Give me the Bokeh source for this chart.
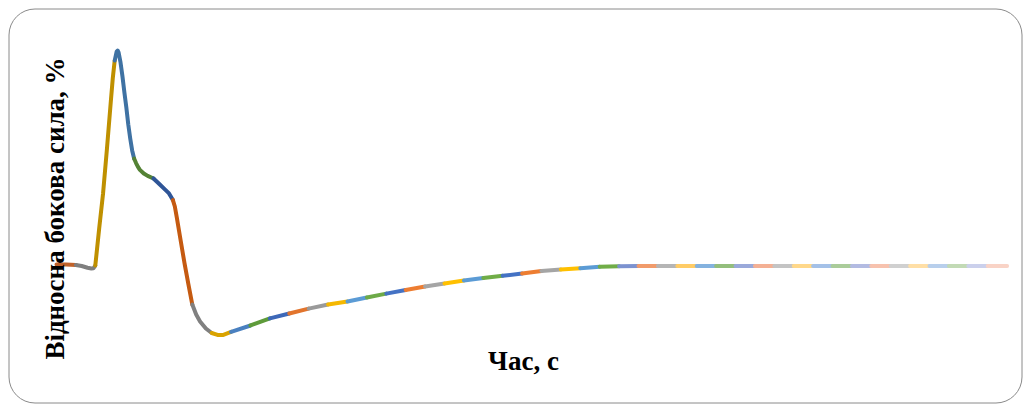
import numpy as np
from bokeh.plotting import figure
from bokeh.models import Range1d, Label, BoxAnnotation
from bokeh.embed import file_html
from bokeh.resources import INLINE

# ---- data ----
time_s = [0.00, 0.05, 0.10, 0.13, 0.16, 0.18, 0.19, 0.20, 0.22, 0.24, 0.26, 0.28, 0.29, 0.30,
          0.31, 0.315, 0.32, 0.33, 0.34, 0.35, 0.36, 0.37, 0.38, 0.39, 0.40, 0.41, 0.42, 0.43,
          0.45, 0.47, 0.50, 0.53, 0.56, 0.58, 0.60, 0.61, 0.62, 0.64, 0.66, 0.68, 0.70, 0.72,
          0.74, 0.77, 0.80, 0.83, 0.86, 0.90, 1.0, 1.1, 1.2, 1.3, 1.4, 1.5, 1.6, 1.7, 1.8, 1.9,
          2.0, 2.1, 2.2, 2.3, 2.4, 2.5, 2.6, 2.7, 2.8, 2.9, 3.0, 3.1, 3.2, 3.3, 3.4, 3.5, 3.6,
          3.7, 3.8, 3.9, 4.0, 4.1, 4.2, 4.3, 4.4, 4.5, 4.6, 4.7, 4.8, 4.9]
force_pct = [0.0, 0.0, -0.2, -0.7, -1.5, -1.9, -1.8, -0.5, 16.8, 33.2, 54.0, 76.2, 86.9, 95.3,
             99.5, 100.0, 99.1, 94.4, 87.9, 80.4, 73.4, 65.4, 58.9, 53.3, 49.5, 47.4, 45.6, 44.2,
             42.5, 41.4, 40.2, 37.6, 35.0, 33.2, 30.1, 27.1, 22.0, 11.2, 0.5, -9.3, -18.7, -23.4,
             -26.6, -29.9, -32.0, -32.9, -32.9, -31.5, -28.5, -25.2, -22.9, -20.6, -18.7, -17.3,
             -15.4, -13.6, -11.9, -10.3, -8.9, -7.5, -6.3, -5.3, -4.2, -3.0, -2.3, -1.7, -1.0,
             -0.8, -0.7, -0.7, -0.7, -0.7, -0.7, -0.7, -0.7, -0.7, -0.7, -0.7, -0.7, -0.7, -0.7,
             -0.7, -0.7, -0.7, -0.7, -0.7, -0.7, -0.7]
segment_step = 0.1  # each coloured piece of the line covers 0.1 s

# ---- styles ----
segment_colors = [
    "#C0622A", "#7F7F7F", "#BF9000", "#3F72A3", "#548235", "#2F5597",
    "#C55A11", "#808080", "#D9A300", "#4A80C0", "#5E9B3A", "#3D68B8",
    "#E2742C", "#9A9A9A", "#F5B800", "#5B9BD5", "#6DAA48", "#4472C4",
    "#ED7D31", "#A5A5A5", "#FFC000", "#5B9BD5", "#70AD47", "#4472C4",
    "#ED7D31", "#A5A5A5", "#FFC000", "#5B9BD5", "#70AD47", "#7C92D0",
    "#F19B6B", "#B5B5B5", "#FFCC66", "#84B2DF", "#93BE7C", "#9AA9DA",
    "#F4B094", "#C4C4C4", "#FFD88A", "#A4C1E8", "#AACC9A", "#B3BBE2",
    "#F7C2AE", "#D0D0D0", "#FFDFA6", "#B8CFEC", "#C2DAB5", "#CBD0EC",
    "#F9D3C6",
]

W, H = 1025, 404
px_per_s = 194.0
x0_px = 56.0
px_per_pct = 2.14
y0_px = 264.0

p = figure(width=W, height=H, output_backend="svg", toolbar_location=None,
           x_range=Range1d(-x0_px / px_per_s, (W - x0_px) / px_per_s),
           y_range=Range1d((y0_px - H) / px_per_pct, y0_px / px_per_pct),
           min_border=0, background_fill_color="white", border_fill_color="white")
p.xaxis.visible = False
p.yaxis.visible = False
p.grid.visible = False
p.outline_line_color = None

t = np.array(time_s)
f = np.array(force_pct)
n_seg = int(round(t[-1] / segment_step))
for k in range(n_seg):
    lo, hi = k * segment_step - 1e-9, (k + 1) * segment_step + 1e-9
    m = (t >= lo) & (t <= hi)
    p.line(t[m], f[m], line_color=segment_colors[k % len(segment_colors)],
           line_width=4, line_cap="round", line_join="round")

box = BoxAnnotation(left=8.5, right=1021.5, bottom=1.5, top=H - 8.5,
                    left_units="screen", right_units="screen",
                    bottom_units="screen", top_units="screen",
                    fill_alpha=0, line_color="#8A8A8A", line_alpha=1.0, line_width=1,
                    border_radius=26)
p.add_layout(box)

p.add_layout(Label(x=54, y=H - 208, x_units="screen", y_units="screen",
                   text="Відносна бокова сила, %", angle=np.pi / 2,
                   text_align="center", text_baseline="alphabetic",
                   text_font="Liberation Serif", text_font_style="bold",
                   text_font_size="27px", text_color="black"))
p.add_layout(Label(x=523, y=H - 360, x_units="screen", y_units="screen",
                   text="Час, с", text_align="center", text_baseline="alphabetic",
                   text_font="Liberation Serif", text_font_style="bold",
                   text_font_size="27px", text_color="black"))

open("out.html", "w").write(file_html(p, INLINE))
